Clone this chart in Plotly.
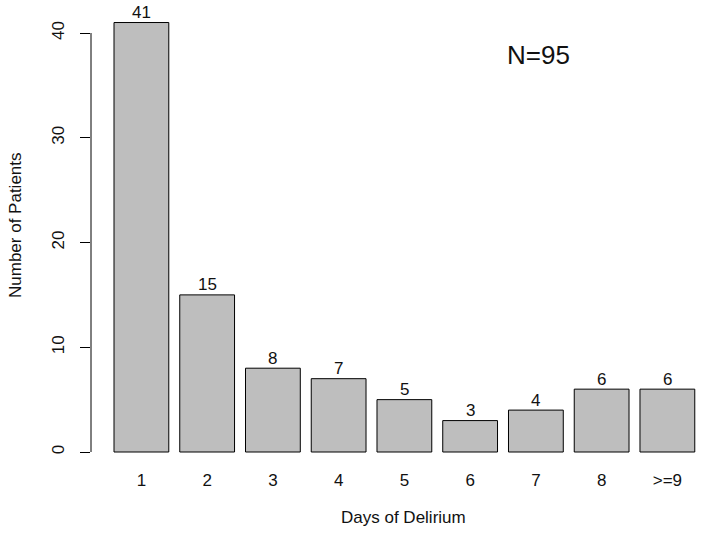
import plotly.graph_objects as go

categories = ["1", "2", "3", "4", "5", "6", "7", "8", ">=9"]
patients = [41, 15, 8, 7, 5, 3, 4, 6, 6]
y_ticks = [0, 10, 20, 30, 40]
x_title = "Days of Delirium"
y_title = "Number of Patients"
note = "N=95"

# R barplot layout: width 1, space 0.2
xpos = [0.7 + 1.2 * i for i in range(len(categories))]

FONT = "Liberation Sans, Arial, sans-serif"
W, H = 704, 533
ml, mr, mt, mb = 91, 0, 5, 64
pw = W - ml - mr
ph = H - mt - mb
bottom_px = H - mb
px_per_x = 54.79
xmin = 0.2 - (114 - ml) / px_per_x
xmax = xmin + pw / px_per_x
px_per_y = 10.475
y0_px = 452
ymin = -(bottom_px - y0_px) / px_per_y
ymax = (y0_px - mt) / px_per_y

fig = go.Figure()
fig.add_trace(go.Bar(
    x=xpos, y=patients, width=1.0,
    marker=dict(color="#BEBEBE", line=dict(color="#000000", width=1)),
    showlegend=False, hoverinfo="skip",
))

annotations = [
    dict(text=str(v), x=x, y=v, xref="x", yref="y", showarrow=False,
         xanchor="center", yanchor="middle", yshift=10,
         font=dict(size=17, color="#111111"))
    for x, v in zip(xpos, patients)
]
annotations += [
    dict(text=x_title, xref="paper", yref="paper",
         x=(403 - ml) / pw, y=-(517 - bottom_px) / ph,
         showarrow=False, xanchor="center", yanchor="middle",
         font=dict(size=17)),
    dict(text=y_title, xref="paper", yref="paper",
         x=(15 - ml) / pw, y=(bottom_px - 225) / ph,
         textangle=-90, showarrow=False, xanchor="center", yanchor="middle",
         font=dict(size=17)),
    dict(text=note, xref="paper", yref="paper",
         x=(538 - ml) / pw, y=(bottom_px - 55) / ph,
         showarrow=False, xanchor="center", yanchor="middle",
         font=dict(size=26)),
]

fig.update_layout(
    width=W, height=H,
    margin=dict(l=ml, r=mr, t=mt, b=mb, pad=0),
    paper_bgcolor="white", plot_bgcolor="white",
    font=dict(family=FONT, size=17, color="#111111"),
    bargap=0,
    hovermode=False,
    xaxis=dict(
        range=[xmin, xmax], tickvals=xpos, ticktext=categories,
        showline=False, showgrid=False, zeroline=False, ticks="",
        tickfont=dict(size=17), ticklabelstandoff=-1,
    ),
    yaxis=dict(
        range=[ymin, ymax], tickvals=y_ticks, showgrid=False, zeroline=False,
        showline=False, ticks="outside", ticklen=10, tickwidth=1,
        tickcolor="#000000", tickangle=-90, tickfont=dict(size=17),
        ticklabelstandoff=9,
    ),
    shapes=[dict(type="line", xref="paper", yref="y", x0=0, x1=0,
                 y0=y_ticks[0], y1=y_ticks[-1],
                 line=dict(color="#000000", width=1))],
    annotations=annotations,
)

fig.write_html(
    "out.html",
    config={"displayModeBar": False, "staticPlot": True},
    post_script="document.body.style.margin='0';document.body.style.overflow='hidden';",
)
